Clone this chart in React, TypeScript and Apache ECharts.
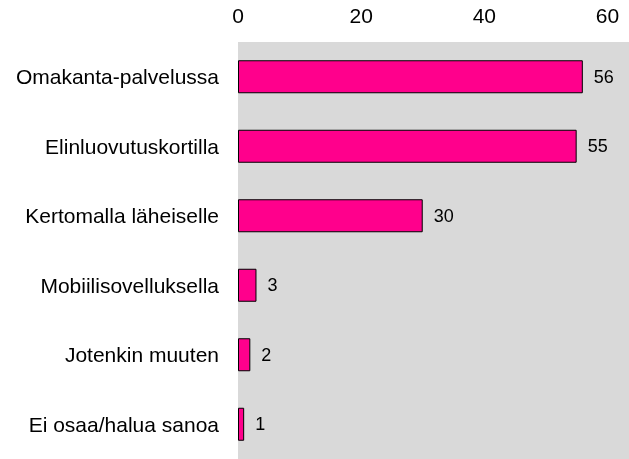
import React, { useEffect, useRef } from "react";
import * as echarts from "echarts";

const categories = [
  "Omakanta-palvelussa",
  "Elinluovutuskortilla",
  "Kertomalla läheiselle",
  "Mobiilisovelluksella",
  "Jotenkin muuten",
  "Ei osaa/halua sanoa",
];
const values = [56, 55, 30, 3, 2, 1];

export default function App() {
  const ref = useRef<HTMLDivElement>(null);
  useEffect(() => {
    if (!ref.current) return;
    const chart = echarts.init(ref.current, undefined, { renderer: "svg" });
    chart.setOption({
      animation: false,
      textStyle: { fontFamily: "Liberation Sans, Arial, sans-serif" },
      grid: {
        left: 238,
        right: 0,
        top: 42,
        bottom: 0,
        show: true,
        backgroundColor: "#D9D9D9",
        borderWidth: 0,
      },
      xAxis: {
        type: "value",
        position: "top",
        min: 0,
        max: 63.5,
        interval: 20,
        axisLine: { show: false },
        axisTick: { show: false },
        splitLine: { show: false },
        axisLabel: {
          showMaxLabel: false,
          fontSize: 21,
          color: "#000",
          margin: 16,
          formatter: (v: number) => (v % 20 === 0 ? String(v) : ""),
        },
      },
      yAxis: {
        type: "category",
        inverse: true,
        data: categories,
        axisLine: { show: false },
        axisTick: { show: false },
        splitLine: { show: false },
        axisLabel: { fontSize: 21, color: "#000", margin: 19 },
      },
      series: [
        {
          type: "bar",
          data: values,
          barWidth: 33,
          itemStyle: { color: "#FF008C", borderColor: "#000", borderWidth: 1 },
          label: {
            show: true,
            position: "right",
            distance: 11,
            fontSize: 18,
            color: "#000",
          },
        },
      ],
    });
    return () => chart.dispose();
  }, []);
  return (
    <div
      ref={ref}
      style={{ position: "fixed", left: 0, top: 0, width: 629, height: 459 }}
    />
  );
}
